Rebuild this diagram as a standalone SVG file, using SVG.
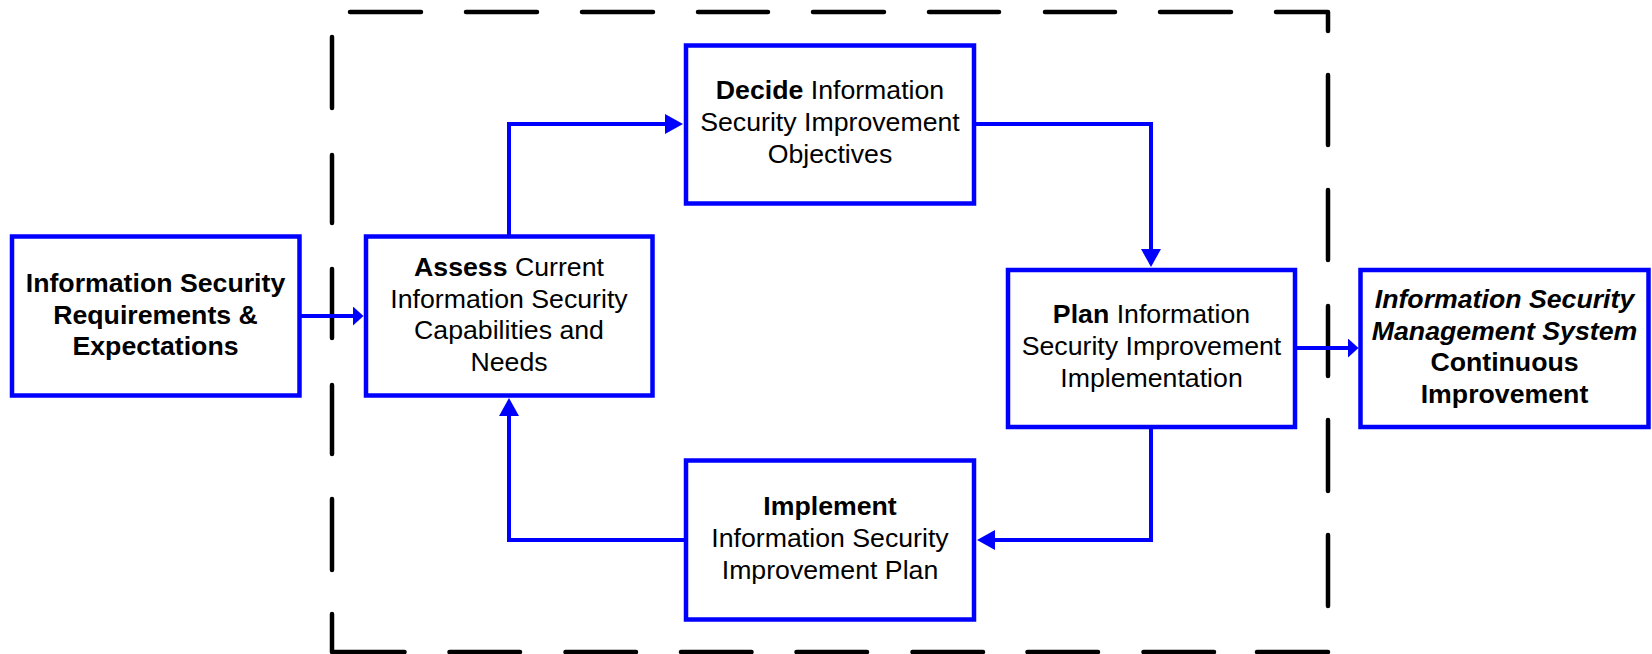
<svg xmlns="http://www.w3.org/2000/svg" width="1652" height="654" viewBox="0 0 1652 654">
  <style>
    .box { fill: #ffffff; stroke: #0000ff; stroke-width: 4.5; }
    .lbl { font-family: "Liberation Sans", Arial, sans-serif; font-size: 26.7px; fill: #000000; text-anchor: middle; }
    .b { font-weight: bold; }
    .bi { font-weight: bold; font-style: italic; }
    .link { fill: none; stroke: #0000ff; stroke-width: 4; }
    .frame { fill: none; stroke: #000000; stroke-width: 4.5; stroke-linecap: round; stroke-linejoin: round; }
  </style>
  <defs>
    <marker id="arrow" markerUnits="userSpaceOnUse" markerWidth="18" markerHeight="20" refX="8" refY="10" orient="auto">
      <path d="M0,0 L18,10 L0,20 z" fill="#0000ff"/>
    </marker>
    <marker id="arrow-short" markerUnits="userSpaceOnUse" markerWidth="11" markerHeight="19" refX="4" refY="9.5" orient="auto">
      <path d="M0,0 L10.5,9.5 L0,19 z" fill="#0000ff"/>
    </marker>
  </defs>

  <!-- dashed boundary of the improvement cycle -->
  <g id="boundary">
    <path class="frame" d="M350,12 H421 M466,12 H537 M582,12 H653 M698,12 H768 M813,12 H884 M929,12 H999 M1045,12 H1115 M1160,12 H1231 M1276,12 H1328 V31
      M1328,75 V145 M1328,190 V260 M1328,306 V376 M1328,420 V491 M1328,535 V606
      M1328,652 H1257 M1214,652 H1143.5 M1098,652 H1027.5 M983,652 H912.5 M867,652 H796.5 M751.5,652 H681 M636,652 H565.5 M520,652 H449.5 M404.5,652 H332 V614
      M332,570 V499 M332,454 V385 M332,338 V269 M332,223 V155 M332,108 V37"/>
  </g>

  <!-- connectors -->
  <g id="connectors">
    <path class="link" d="M300,316 H357" marker-end="url(#arrow-short)"/>
    <path class="link" d="M509,236 V124 H673" marker-end="url(#arrow)"/>
    <path class="link" d="M974,124 H1151 V257" marker-end="url(#arrow)"/>
    <path class="link" d="M1295,348 H1352" marker-end="url(#arrow-short)"/>
    <path class="link" d="M1151,427 V540 H987" marker-end="url(#arrow)"/>
    <path class="link" d="M686,540 H509 V408" marker-end="url(#arrow)"/>
  </g>

  <g id="requirements">
    <rect class="box" x="12" y="236.5" width="287.5" height="159"/>
    <text class="lbl b" x="155.5" y="292">Information Security</text>
    <text class="lbl b" x="155.5" y="323.5">Requirements &amp;</text>
    <text class="lbl b" x="155.5" y="355">Expectations</text>
  </g>

  <g id="assess">
    <rect class="box" x="366" y="236.5" width="286.5" height="159"/>
    <text class="lbl" x="509" y="276"><tspan class="b">Assess</tspan> Current</text>
    <text class="lbl" x="509" y="307.5">Information Security</text>
    <text class="lbl" x="509" y="339">Capabilities and</text>
    <text class="lbl" x="509" y="371">Needs</text>
  </g>

  <g id="decide">
    <rect class="box" x="686" y="45.5" width="288" height="158"/>
    <text class="lbl" x="830" y="99"><tspan class="b">Decide</tspan> Information</text>
    <text class="lbl" x="830" y="131">Security Improvement</text>
    <text class="lbl" x="830" y="163">Objectives</text>
  </g>

  <g id="plan">
    <rect class="box" x="1008" y="270" width="287" height="157"/>
    <text class="lbl" x="1151.5" y="323"><tspan class="b">Plan</tspan> Information</text>
    <text class="lbl" x="1151.5" y="355">Security Improvement</text>
    <text class="lbl" x="1151.5" y="387">Implementation</text>
  </g>

  <g id="implement">
    <rect class="box" x="686" y="460.5" width="288" height="159"/>
    <text class="lbl b" x="830" y="515">Implement</text>
    <text class="lbl" x="830" y="547">Information Security</text>
    <text class="lbl" x="830" y="579">Improvement Plan</text>
  </g>

  <g id="isms">
    <rect class="box" x="1360.5" y="270" width="288" height="157"/>
    <text class="lbl bi" x="1504.5" y="308">Information Security</text>
    <text class="lbl bi" x="1504.5" y="339.5">Management System</text>
    <text class="lbl b" x="1504.5" y="371">Continuous</text>
    <text class="lbl b" x="1504.5" y="402.5">Improvement</text>
  </g>
</svg>
